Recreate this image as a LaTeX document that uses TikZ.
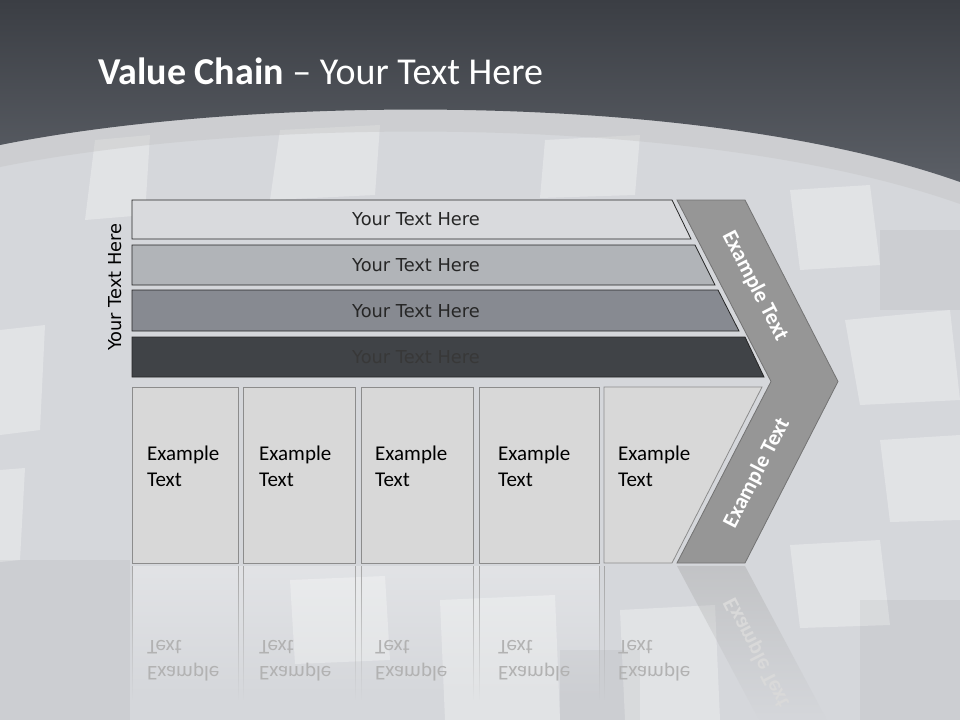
\documentclass[tikz,border=0pt]{standalone}
\usepackage{fontspec}
\setmainfont{Carlito}
\newfontfamily\barfont{DejaVu Sans}
\usetikzlibrary{fadings}

\definecolor{headtop}{HTML}{3B3E44}
\definecolor{headbot}{HTML}{5B5F66}
\definecolor{backgnd}{HTML}{D5D7DB}
\definecolor{barA}{HTML}{D9DADD}
\definecolor{barB}{HTML}{B1B4B8}
\definecolor{barC}{HTML}{878A91}
\definecolor{barD}{HTML}{404347}
\definecolor{cellfill}{HTML}{D8D8D8}
\definecolor{chevfill}{HTML}{969696}

\begin{document}
\begin{tikzpicture}[
    x=1pt, y=-1pt,
    bar/.style={draw=black!85, line width=0.8pt},
    bartext/.style={font=\barfont\fontsize{17.8}{21}\selectfont, text=black!85},
    cell/.style={fill=cellfill, draw=black!45, line width=0.8pt},
    celltext/.style={font=\fontsize{21}{26}\selectfont, align=left, anchor=base west, inner sep=0pt},
    chevtext/.style={font=\bfseries\fontsize{22}{26}\selectfont, text=white},
    mirrortext/.style={yscale=-1, text=black!30},
    cube/.style={fill=white, opacity=.3},
    dimcube/.style={fill=black, opacity=.04},
]
\useasboundingbox (0,0) rectangle (960,720);

% Background with cubes
\fill[backgnd] (0,0) rectangle (960,720);
\fill[cube] (0,330) -- (45,325) -- (40,430) -- (0,435) -- cycle;
\fill[cube] (0,470) -- (25,468) -- (20,560) -- (0,562) -- cycle;
\fill[cube] (95,140) -- (150,135) -- (145,215) -- (85,220) -- cycle;
\fill[cube] (280,130) -- (380,125) -- (375,195) -- (270,200) -- cycle;
\fill[cube] (545,140) -- (640,135) -- (635,195) -- (540,198) -- cycle;
\fill[cube] (790,190) -- (870,185) -- (880,265) -- (800,270) -- cycle;
\fill[cube] (845,320) -- (950,310) -- (960,400) -- (860,405) -- cycle;
\fill[cube] (880,440) -- (960,435) -- (960,520) -- (890,522) -- cycle;
\fill[cube] (790,545) -- (880,540) -- (890,625) -- (800,628) -- cycle;
\fill[cube] (620,610) -- (715,605) -- (720,720) -- (625,720) -- cycle;
\fill[cube] (440,600) -- (555,595) -- (560,720) -- (445,720) -- cycle;
\fill[cube] (290,580) -- (385,576) -- (390,660) -- (295,664) -- cycle;
\fill[dimcube] (0,560) rectangle (130,720);
\fill[dimcube] (860,600) rectangle (960,720);
\fill[dimcube] (880,230) rectangle (960,310);
\fill[dimcube] (560,650) rectangle (640,720);

% Header and curved band
\fill[black!25, opacity=.35] (0,167) .. controls (250,117) and (700,112) .. (960,204)
    -- (960,0) -- (0,0) -- cycle;
\shade[top color=headtop, bottom color=headbot]
    (0,0) -- (960,0) -- (960,182) .. controls (700,90) and (250,95) .. (0,145) -- cycle;
\node[anchor=base west, inner sep=0pt, text=white, font=\fontsize{38}{42}\selectfont]
    (title) at (98,84) {\textbf{Value Chain} -- Your Text Here};

% Side label
\node[bartext, text=black, rotate=90] (side) at (115,287) {Your Text Here};

% Bars
\filldraw[bar, fill=barA] (132,200) -- (672,200) -- (691,239) -- (132,239) -- cycle;
\node[bartext] (barA) at (416,219.5) {Your Text Here};

\filldraw[bar, fill=barB] (132,245) -- (695,245) -- (715,285) -- (132,285) -- cycle;
\node[bartext] (barB) at (416,265.5) {Your Text Here};

\filldraw[bar, fill=barC] (132,290) -- (718,290) -- (739,331) -- (132,331) -- cycle;
\node[bartext] (barC) at (416,311) {Your Text Here};

\filldraw[bar, fill=barD] (132,337) -- (745,337) -- (764,377) -- (132,377) -- cycle;
\node[bartext, text=black!78] (barD) at (416,357) {Your Text Here};

% Cells (base anchor sits on the last line)
\filldraw[cell] (132,387) rectangle (238,563);
\filldraw[cell] (243,387) rectangle (355,563);
\filldraw[cell] (361,387) rectangle (473,563);
\filldraw[cell] (479,387) rectangle (599,563);
\filldraw[cell] (604,387) -- (762,387) -- (672,563) -- (604,563) -- cycle;

\node[celltext] (cellA) at (147,486) {Example\\Text};
\node[celltext] (cellB) at (259,486) {Example\\Text};
\node[celltext] (cellC) at (375,486) {Example\\Text};
\node[celltext] (cellD) at (498,486) {Example\\Text};
\node[celltext] (cellE) at (618,486) {Example\\Text};

% Chevron
\filldraw[fill=chevfill, draw=black!55, line width=0.8pt]
    (677,200) -- (745,200) -- (838,381.5) -- (745,563) -- (677,563) -- (771,381.5) -- cycle;
\node[chevtext, rotate=-62.7] (chevA) at (755,286) {Example Text};
\node[chevtext, rotate=62.7] (chevB) at (757,473) {Example Text};

% Reflections
\fill[white, opacity=.3, path fading=south] (132,566) rectangle (600,700);
\draw[black!35, path fading=south] (132,566) -- (132,700) (238,566) -- (238,700)
    (243,566) -- (243,700) (355,566) -- (355,700) (361,566) -- (361,700)
    (473,566) -- (473,700) (479,566) -- (479,700) (599,566) -- (599,700)
    (604,566) -- (604,700);
\fill[black!35, opacity=.4, path fading=south] (677,566) -- (745,566) -- (827,720) -- (759,720) -- cycle;

\node[celltext, mirrortext] (mirrorA) at (147,640) {Example\\Text};
\node[celltext, mirrortext] (mirrorB) at (259,640) {Example\\Text};
\node[celltext, mirrortext] (mirrorC) at (375,640) {Example\\Text};
\node[celltext, mirrortext] (mirrorD) at (498,640) {Example\\Text};
\node[celltext, mirrortext] (mirrorE) at (618,640) {Example\\Text};
\node[chevtext, rotate=-62.7, yscale=-1, text=white!85!black] (mirrorF) at (757,653) {Example Text};

\end{tikzpicture}
\end{document}
